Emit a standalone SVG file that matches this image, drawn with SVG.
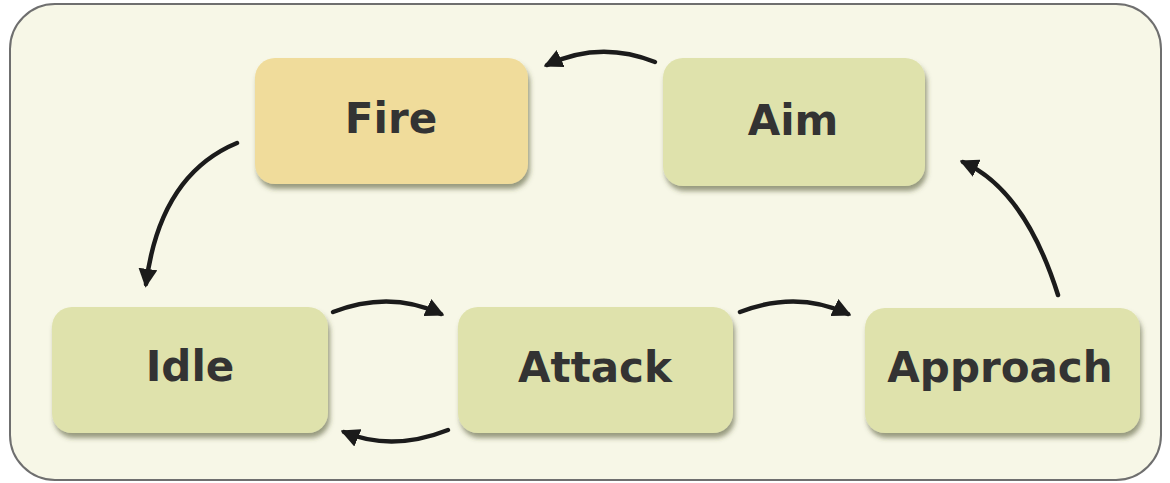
<svg xmlns="http://www.w3.org/2000/svg" width="1170" height="483" viewBox="0 0 1170 483">
  <style>
    .frame { fill: #f7f7e7; stroke: #6f6f6f; stroke-width: 2; }
    .box { stroke: none; filter: url(#shadow); }
    .green { fill: #dfe2ac; }
    .gold { fill: #f0dc9b; }
    .label { font-family: "DejaVu Sans", "Liberation Sans", sans-serif; font-weight: bold; font-size: 42px; fill: #333333; text-anchor: middle; }
    .edge { fill: none; stroke: #1b1b1b; stroke-width: 4.5; stroke-linecap: round; marker-end: url(#head); }
  </style>
  <defs>
    <filter id="shadow" x="-10%" y="-10%" width="125%" height="135%">
      <feGaussianBlur in="SourceAlpha" stdDeviation="2.5"/>
      <feOffset dx="2" dy="5" result="off"/>
      <feFlood flood-color="#4a4f2a" flood-opacity="0.55"/>
      <feComposite in2="off" operator="in" result="sh"/>
      <feMerge>
        <feMergeNode in="sh"/>
        <feMergeNode in="SourceGraphic"/>
      </feMerge>
    </filter>
    <marker id="head" viewBox="0 0 10 10" refX="8" refY="5" markerWidth="4.2" markerHeight="4.2" orient="auto" markerUnits="strokeWidth">
      <path d="M0,0 L10,5 L0,10 z" fill="#1b1b1b"/>
    </marker>
  </defs>

  <rect class="frame" x="10" y="4" width="1151" height="476" rx="45" ry="45"/>

  <g id="connectors">
    <path class="edge" d="M237,143 Q160,175 146,284"/>
    <path class="edge" d="M333,312 Q390,290 441,314"/>
    <path class="edge" d="M448,430 Q392,452 344,432"/>
    <path class="edge" d="M740,312 Q797,290 848,314"/>
    <path class="edge" d="M1058,295 Q1025,190 963,162"/>
    <path class="edge" d="M655,62 Q600,40 547,65"/>
  </g>

  <g id="node-fire">
    <rect class="box gold" x="255" y="58" width="273" height="126" rx="20"/>
    <text class="label" x="391" y="133">Fire</text>
  </g>
  <g id="node-aim">
    <rect class="box green" x="663" y="58" width="262" height="128" rx="20"/>
    <text class="label" x="793" y="135">Aim</text>
  </g>
  <g id="node-idle">
    <rect class="box green" x="52" y="307" width="276" height="126" rx="20"/>
    <text class="label" x="190" y="381">Idle</text>
  </g>
  <g id="node-attack">
    <rect class="box green" x="458" y="307" width="275" height="126" rx="20"/>
    <text class="label" x="595" y="382">Attack</text>
  </g>
  <g id="node-approach">
    <rect class="box green" x="865" y="308" width="275" height="125" rx="20"/>
    <text class="label" x="1000" y="382">Approach</text>
  </g>
</svg>
